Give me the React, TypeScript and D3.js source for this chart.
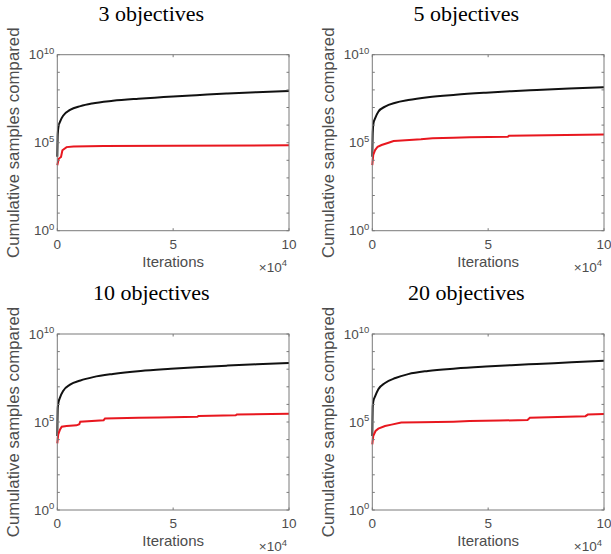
import * as d3 from 'd3'

const W = 611
const H = 554

const titles = ['3 objectives', '5 objectives', '10 objectives', '20 objectives']
const xTicks = [0, 5, 10]
const yLabelExps = [0, 5, 10]
const yMinorExps = [0, 1, 2, 3, 4, 5, 6, 7, 8, 9, 10]

// [iterations (x10^4), log10 cumulative samples compared]
const naive3: [number, number][] = [
  [0, 4.2], [0.02, 5.5], [0.05, 5.9], [0.12, 6.2], [0.26, 6.55], [0.55, 6.86], [1, 7.08],
  [1.5, 7.23], [2.4, 7.38], [3.5, 7.5], [5, 7.63], [6, 7.7], [7.3, 7.79], [8.6, 7.87], [10, 7.94],
]
const pruned3: [number, number][] = [
  [0, 3.72], [0.06, 4.09], [0.16, 4.19], [0.22, 4.57], [0.4, 4.75], [0.7, 4.79], [2, 4.81],
  [5, 4.83], [10, 4.85],
]
const naive5: [number, number][] = [
  [0, 4.2], [0.02, 5.6], [0.05, 6.1], [0.12, 6.38], [0.26, 6.76], [0.55, 7.05], [1, 7.27],
  [1.55, 7.42], [2.4, 7.58], [3.6, 7.72], [4.9, 7.84], [6, 7.93], [7.1, 8.0], [8.5, 8.08], [10, 8.15],
]
const pruned5: [number, number][] = [
  [0, 3.73], [0.04, 4.3], [0.12, 4.58], [0.23, 4.77], [0.4, 4.87], [0.7, 5.0], [0.92, 5.1],
  [1.1, 5.11], [2.1, 5.19], [2.6, 5.25], [3.5, 5.28], [4.2, 5.31], [5.85, 5.34], [5.9, 5.4], [10, 5.47],
]
const naive10: [number, number][] = [
  [0, 4.2], [0.02, 5.8], [0.05, 6.1], [0.12, 6.4], [0.26, 6.78], [0.55, 7.12], [1, 7.36],
  [1.55, 7.55], [2.4, 7.73], [3.6, 7.9], [4.9, 8.02], [6, 8.11], [7.3, 8.2], [8.6, 8.28], [10, 8.35],
]
const pruned10: [number, number][] = [
  [0, 3.79], [0.04, 4.3], [0.12, 4.58], [0.19, 4.73], [0.4, 4.77], [0.83, 4.81], [0.95, 4.87],
  [0.99, 5.02], [2.0, 5.1], [2.06, 5.2], [3.5, 5.24], [4.4, 5.26], [6.05, 5.3], [6.1, 5.34],
  [7.7, 5.38], [7.75, 5.43], [10, 5.47],
]
const naive20: [number, number][] = [
  [0, 4.2], [0.02, 5.9], [0.05, 6.2], [0.12, 6.45], [0.26, 6.86], [0.55, 7.22], [1, 7.5],
  [1.55, 7.72], [2.4, 7.9], [3.6, 8.04], [4.9, 8.15], [6, 8.23], [7.1, 8.3], [8.6, 8.39], [10, 8.48],
]
const pruned20: [number, number][] = [
  [0, 3.73], [0.04, 4.2], [0.14, 4.49], [0.26, 4.62], [0.55, 4.77], [0.83, 4.85], [1.25, 4.97],
  [2.1, 4.99], [3.5, 5.02], [4.2, 5.05], [5.5, 5.08], [6.7, 5.12], [6.8, 5.24], [9.2, 5.33],
  [9.3, 5.42], [10, 5.45],
]

const naive = [naive3, naive5, naive10, naive20]
const pruned = [pruned3, pruned5, pruned10, pruned20]

const origins = [
  { left: 57.3, top: 54.7 },
  { left: 372.3, top: 54.7 },
  { left: 57.3, top: 334 },
  { left: 372.3, top: 334 },
]

const sans = 'Liberation Sans, Arial, sans-serif'
const serif = 'Liberation Serif, Times New Roman, serif'
const axisColor = '#7a7a7a'
const textColor = '#4d4d4d'

function Panel({ left, top, title, black, red }: any) {
  const w = 231.7
  const h = 176
  const x = d3.scaleLinear().domain([0, 10]).range([left, left + w])
  const y = d3.scaleLog().domain([1, 1e10]).range([top + h, top])
  const smooth = d3
    .line<[number, number]>()
    .x((d) => x(d[0]))
    .y((d) => y(Math.pow(10, d[1])))
    .curve(d3.curveMonotoneX)
  const line = d3
    .line<[number, number]>()
    .x((d) => x(d[0]))
    .y((d) => y(Math.pow(10, d[1])))
  const tl = 2.5

  return (
    <g>
      <text x={left + 94} y={top - 34} textAnchor="middle" fontFamily={serif} fontSize={22} fill="#000">
        {title}
      </text>
      <path d={smooth(black) || ''} fill="none" stroke="#111" strokeWidth={2} />
      <path d={line(red) || ''} fill="none" stroke="#e8171f" strokeWidth={2} />
      <rect x={left} y={top} width={w} height={h} fill="none" stroke={axisColor} strokeWidth={1} />
      {yMinorExps.map((e) => (
        <g key={'y' + e}>
          <line x1={left} x2={left + tl} y1={y(Math.pow(10, e))} y2={y(Math.pow(10, e))} stroke={axisColor} />
          <line x1={left + w} x2={left + w - tl} y1={y(Math.pow(10, e))} y2={y(Math.pow(10, e))} stroke={axisColor} />
        </g>
      ))}
      {xTicks.map((t) => (
        <g key={'x' + t}>
          <line x1={x(t)} x2={x(t)} y1={top + h} y2={top + h - tl} stroke={axisColor} />
          <line x1={x(t)} x2={x(t)} y1={top} y2={top + tl} stroke={axisColor} />
          <text x={x(t)} y={top + h + 18} textAnchor="middle" fontFamily={sans} fontSize={13.5} fill={textColor}>
            {t}
          </text>
        </g>
      ))}
      {yLabelExps.map((e) => (
        <text key={'yl' + e} x={left - 3} y={y(Math.pow(10, e)) + 4.5} textAnchor="end" fontFamily={sans} fontSize={13.5} fill={textColor}>
          10<tspan fontSize={9.5} dy={-5.5}>{e}</tspan>
        </text>
      ))}
      <text x={(left + left + w) / 2} y={top + h + 36} textAnchor="middle" fontFamily={sans} fontSize={15} fill={textColor}>
        Iterations
      </text>
      <text x={left + w - 2} y={top + h + 41} textAnchor="end" fontFamily={sans} fontSize={13.5} fill={textColor}>
        ×10<tspan fontSize={9.5} dy={-5.5}>4</tspan>
      </text>
      <text
        transform={`translate(${left - 38},${top + h / 2}) rotate(-90)`}
        textAnchor="middle"
        fontFamily={sans}
        fontSize={16.8}
        fill={textColor}
      >
        Cumulative samples compared
      </text>
    </g>
  )
}

export default function App() {
  return (
    <svg width={W} height={H} style={{ position: 'absolute', left: 0, top: 0, background: '#fff' }}>
      {origins.map((o, i) => (
        <Panel key={i} left={o.left} top={o.top} title={titles[i]} black={naive[i]} red={pruned[i]} />
      ))}
    </svg>
  )
}
